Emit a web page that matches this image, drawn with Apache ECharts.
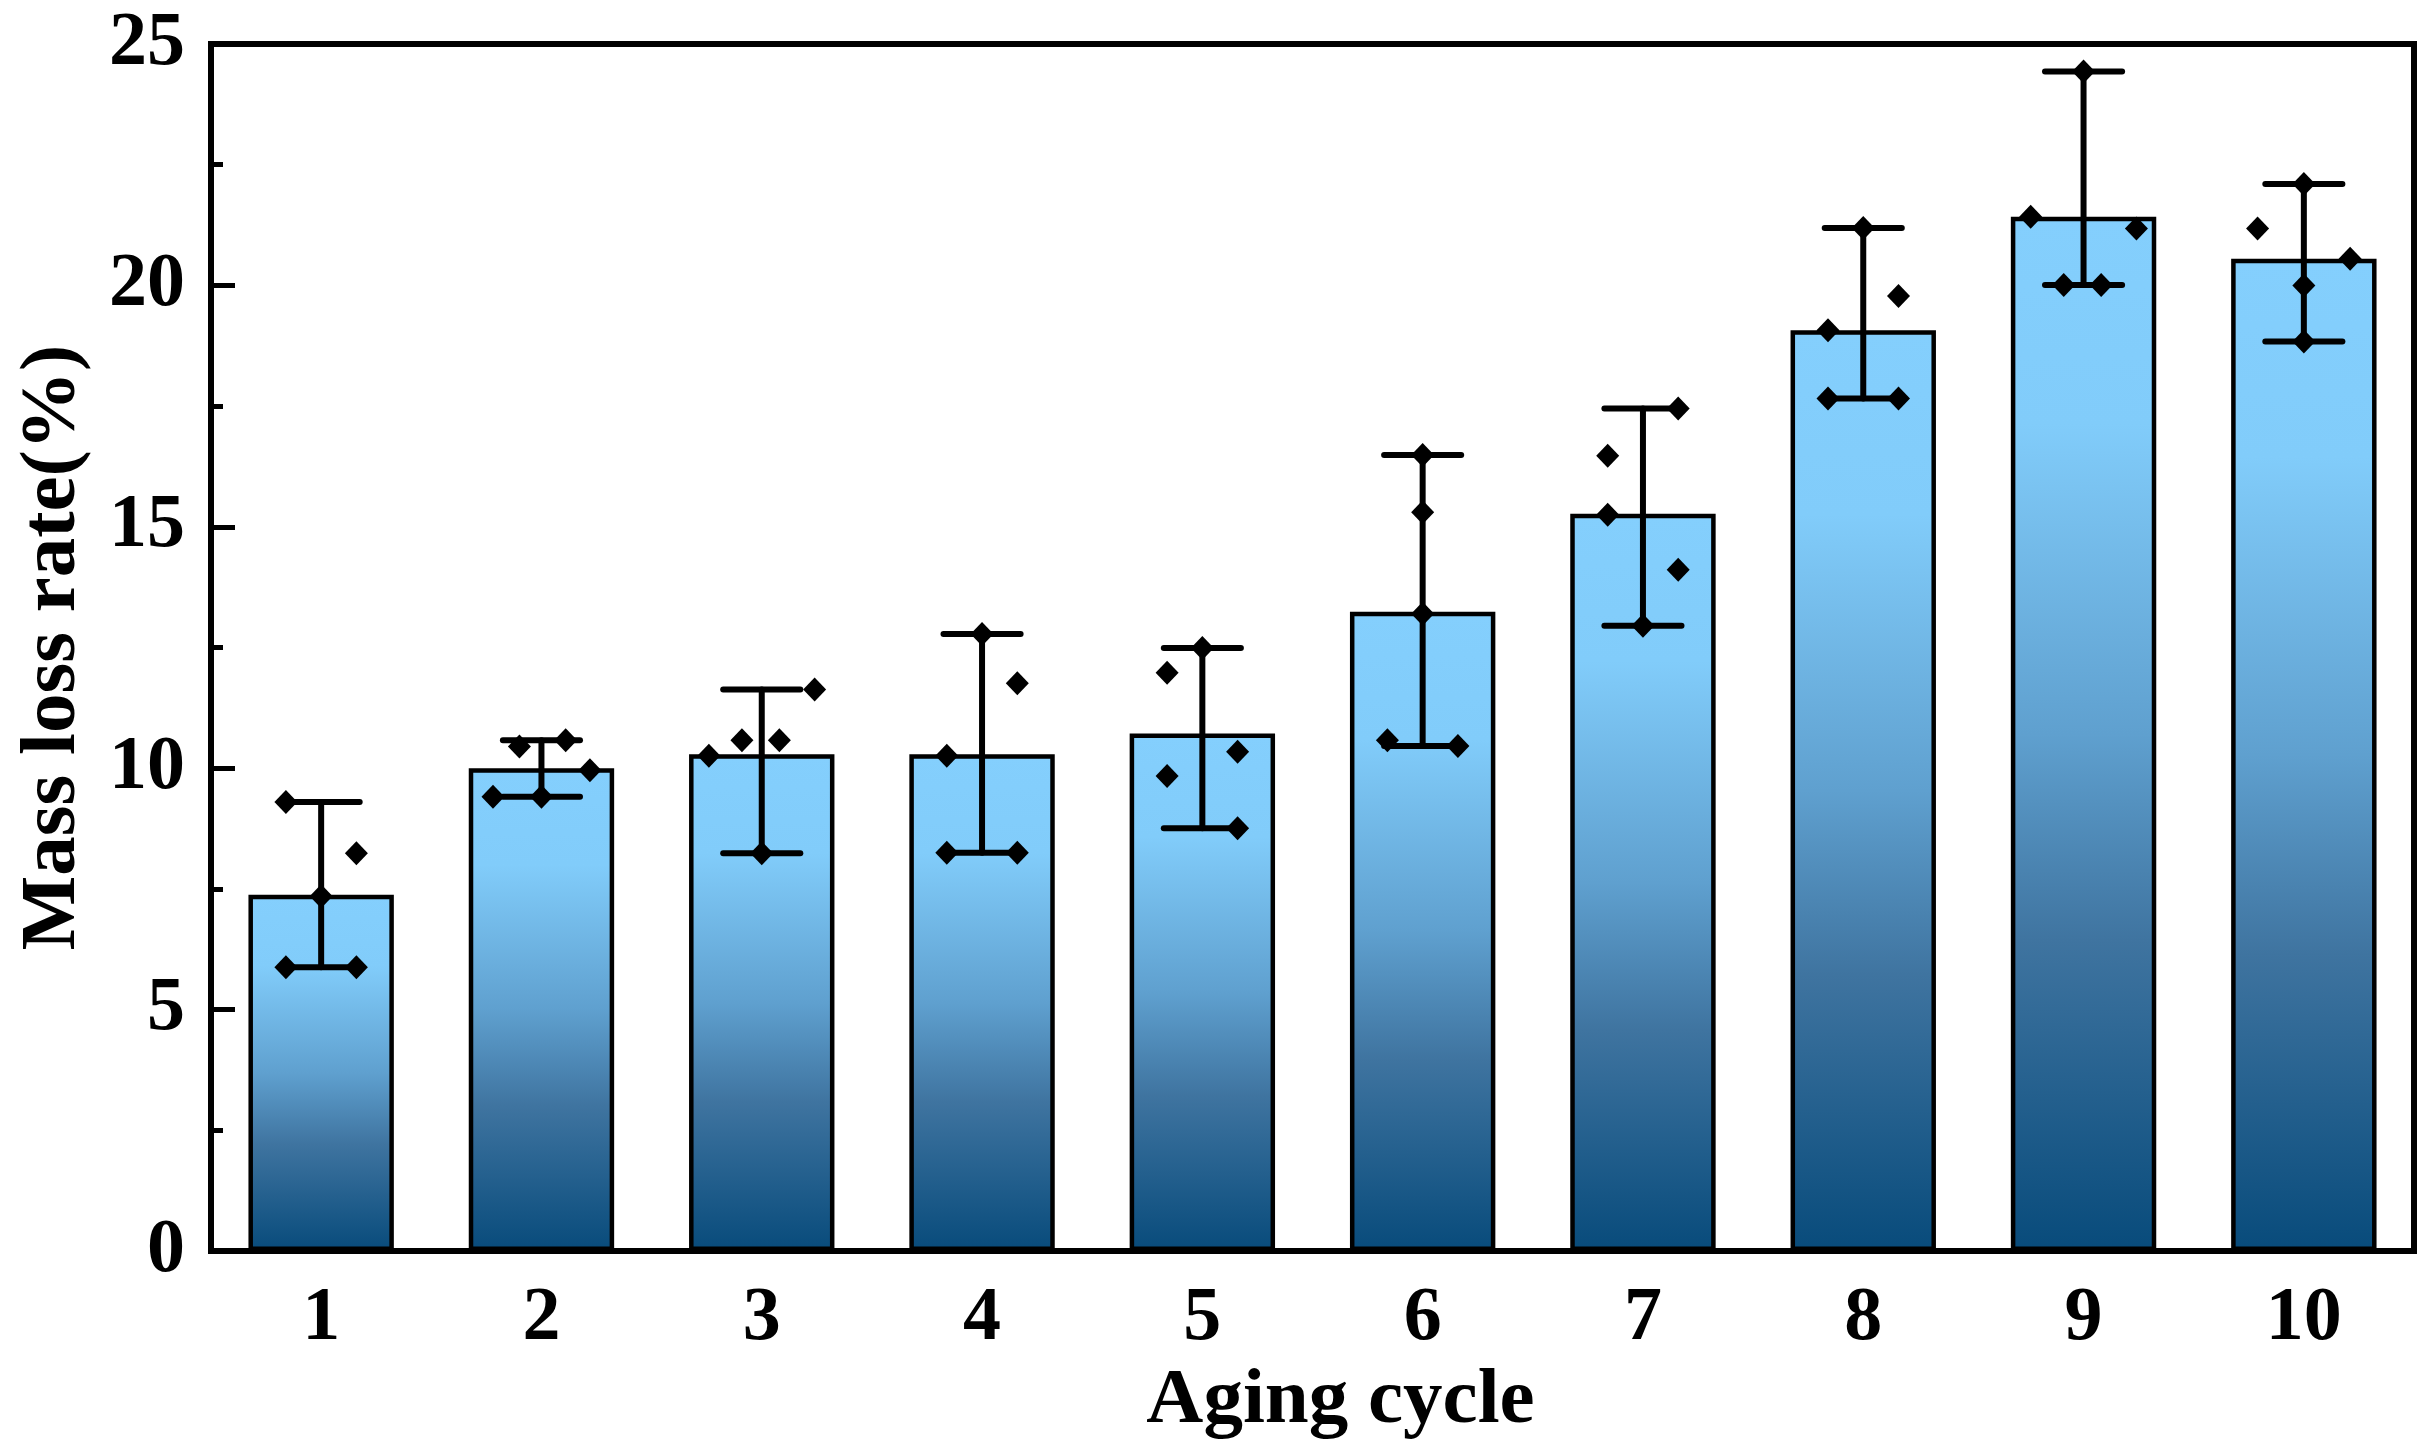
<!DOCTYPE html>
<html>
<head>
<meta charset="utf-8">
<script src="https://cdn.jsdelivr.net/npm/echarts@6/dist/echarts.min.js"></script>
<style>
html,body{margin:0;padding:0;background:#fff;}
#chart{width:2436px;height:1446px;}
</style>
</head>
<body>
<div id="chart"></div>
<script>
// ---- data ----
var categories = ['1','2','3','4','5','6','7','8','9','10'];
var meanValues = [7.38, 10.00, 10.29, 10.29, 10.72, 13.24, 15.27, 19.07, 21.42, 20.55];
var errLow  = [5.88, 9.41, 8.24, 8.25, 8.76, 10.46, 12.95, 17.66, 20.01, 18.84];
var errHigh = [9.30, 10.58, 11.63, 12.78, 12.49, 16.49, 17.45, 21.19, 24.43, 22.10];
// individual measurements per aging cycle
var pointValues = [
  [9.30, 8.24, 7.35, 5.88, 5.88],
  [10.45, 10.58, 9.96, 9.41, 9.41],
  [10.26, 10.58, 10.58, 11.63, 8.24],
  [12.78, 11.76, 10.26, 8.25, 8.25],
  [12.49, 11.98, 10.34, 9.84, 8.76],
  [16.49, 15.30, 13.20, 10.58, 10.46],
  [17.45, 16.47, 15.25, 14.11, 12.95],
  [21.19, 19.78, 19.07, 17.66, 17.66],
  [24.43, 21.42, 21.18, 20.01, 20.01],
  [22.10, 21.18, 20.55, 20.00, 18.84]
];
// horizontal jitter of each measurement (in category units)
var pointJitter = [
  [-0.16, 0.16, 0, -0.16, 0.16],
  [-0.10, 0.11, 0.22, -0.22, 0],
  [-0.24, -0.09, 0.08, 0.24, 0],
  [0, 0.16, -0.16, -0.16, 0.16],
  [0, -0.16, 0.16, -0.16, 0.16],
  [0, 0, 0, -0.16, 0.16],
  [0.16, -0.16, -0.16, 0.16, 0],
  [0, 0.16, -0.16, -0.16, 0.16],
  [0, -0.24, 0.24, -0.09, 0.08],
  [0, -0.21, 0.21, 0, 0]
];
var yTicks = {min: 0, max: 25, interval: 5};

// ---- build series data ----
var scatterData = [];
for (var i = 0; i < pointValues.length; i++) {
  for (var j = 0; j < pointValues[i].length; j++) {
    scatterData.push([i + 1 + pointJitter[i][j], pointValues[i][j]]);
  }
}
var errData = categories.map(function (c, i) { return [i + 1, errLow[i], errHigh[i]]; });

var FONT = "'Liberation Serif', 'Times New Roman', serif";
var chart = echarts.init(document.getElementById('chart'), null, {renderer: 'canvas'});
chart.setOption({
  backgroundColor: '#fff',
  animation: false,
  grid: {left: 211, right: 22, top: 44, bottom: 192, show: true, borderColor: '#000', borderWidth: 6, containLabel: false},
  xAxis: [{
    type: 'category',
    data: categories,
    boundaryGap: true,
    axisLine: {show: true, lineStyle: {color: '#000', width: 6}},
    axisTick: {show: false},
    axisLabel: {color: '#000', fontFamily: FONT, fontWeight: 'bold', fontSize: 76, margin: 30},
    name: 'Aging cycle',
    nameLocation: 'middle',
    nameGap: 86,
    nameTextStyle: {color: '#000', fontFamily: FONT, fontWeight: 'bold', fontSize: 79, padding: [0, 0, 0, 56]},
    splitLine: {show: false}
  }, {
    type: 'value',
    min: 0.5, max: 10.5,
    show: false,
    position: 'bottom'
  }],
  yAxis: {
    type: 'value',
    min: yTicks.min, max: yTicks.max, interval: yTicks.interval,
    axisLine: {show: true, lineStyle: {color: '#000', width: 6}},
    axisTick: {show: true, inside: true, length: 24, lineStyle: {color: '#000', width: 5}},
    minorTick: {show: true, splitNumber: 2, length: 12, lineStyle: {color: '#000', width: 5}},
    axisLabel: {color: '#000', fontFamily: FONT, fontWeight: 'bold', fontSize: 76, margin: 26},
    splitLine: {show: false},
    name: 'Mass loss rate(%)',
    nameLocation: 'middle',
    nameGap: 118,
    nameTextStyle: {color: '#000', fontFamily: FONT, fontWeight: 'bold', fontSize: 79}
  },
  series: [{
    type: 'bar',
    xAxisIndex: 0,
    data: meanValues,
    barWidth: '66%',
    itemStyle: {
      color: new echarts.graphic.LinearGradient(0, 0, 0, 1, [
        {offset: 0, color: '#84CFFD'},
        {offset: 0.2, color: '#81CCFA'},
        {offset: 0.5, color: '#5FA0CF'},
        {offset: 0.7, color: '#3F74A0'},
        {offset: 1, color: '#084B7B'}
      ]),
      borderColor: '#000',
      borderWidth: 4.5
    },
    z: 2
  }, {
    type: 'custom',
    xAxisIndex: 1,
    data: errData,
    z: 3,
    renderItem: function (params, api) {
      var x = api.value(0);
      var lo = api.coord([x, api.value(1)]);
      var hi = api.coord([x, api.value(2)]);
      var half = api.size([0.175, 0])[0];
      var st = {stroke: '#000', lineWidth: 6, lineCap: 'round'};
      return {
        type: 'group',
        children: [
          {type: 'line', shape: {x1: hi[0], y1: hi[1], x2: lo[0], y2: lo[1]}, style: st},
          {type: 'line', shape: {x1: hi[0] - half, y1: hi[1], x2: hi[0] + half, y2: hi[1]}, style: st},
          {type: 'line', shape: {x1: lo[0] - half, y1: lo[1], x2: lo[0] + half, y2: lo[1]}, style: st}
        ]
      };
    }
  }, {
    type: 'scatter',
    xAxisIndex: 1,
    data: scatterData,
    symbol: 'diamond',
    symbolSize: [23, 24],
    itemStyle: {color: '#000', opacity: 1},
    z: 4
  }]
});
</script>
</body>
</html>
